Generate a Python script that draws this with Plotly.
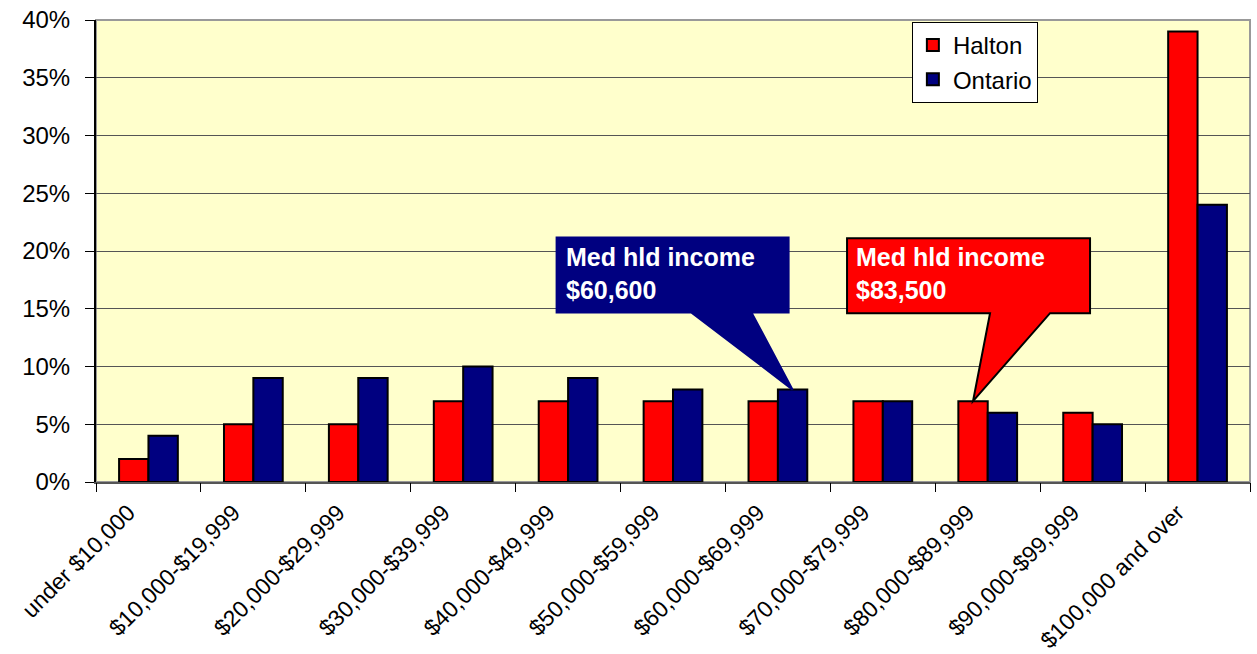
import plotly.graph_objects as go

categories = ["under $10,000", "$10,000-$19,999", "$20,000-$29,999", "$30,000-$39,999",
              "$40,000-$49,999", "$50,000-$59,999", "$60,000-$69,999", "$70,000-$79,999",
              "$80,000-$89,999", "$90,000-$99,999", "$100,000 and over"]
halton = [2, 5, 5, 7, 7, 7, 7, 7, 7, 6, 39]
ontario = [4, 9, 9, 10, 9, 8, 8, 7, 6, 5, 24]
y_ticks = [0, 5, 10, 15, 20, 25, 30, 35, 40]
y_labels = ["0%", "5%", "10%", "15%", "20%", "25%", "30%", "35%", "40%"]

RED = "#FF0000"
BLUE = "#000080"
FONT = "Liberation Sans, Arial, sans-serif"
BARGAP = 0.44

xs = list(range(len(categories)))
fig = go.Figure()
fig.add_trace(go.Bar(x=xs, y=halton, name="Halton", marker=dict(color=RED, line=dict(color="black", width=2))))
fig.add_trace(go.Bar(x=xs, y=ontario, name="Ontario", marker=dict(color=BLUE, line=dict(color="black", width=2))))
# invisible trace for boundary ticks axis
fig.add_trace(go.Scatter(x=[-0.5, 10.5], y=[0, 0], xaxis="x2", mode="markers",
                         marker=dict(opacity=0), showlegend=False, hoverinfo="skip"))

off = (1 - BARGAP) / 4

def callout(ci, val, side, box, base, fill, border, label, txt_dx, txt_dy):
    xa = ci + side * off
    x0, x1, ytop, ybot = box
    b0, b1 = base
    path = (f"M {x0} {ytop} L {x1} {ytop} L {x1} {ybot} L {b1} {ybot} L 0 0 "
            f"L {b0} {ybot} L {x0} {ybot} Z")
    fig.add_shape(type="path", xref="x", yref="y", xsizemode="pixel", ysizemode="pixel",
                  xanchor=xa, yanchor=val, path=path, fillcolor=fill,
                  line=dict(color=border, width=2), layer="above")
    fig.add_annotation(x=xa, y=val, xref="x", yref="y", text=label, showarrow=False,
                       xanchor="left", yanchor="top", align="left", xshift=txt_dx, yshift=txt_dy,
                       font=dict(family=FONT, size=25, color="white", weight="bold"))

callout(6, ontario[6], +1, (-236, -4, 152, 77), (-101, -41), BLUE, BLUE,
        "Med hld income<br>$60,600", -229, 149)
callout(8, halton[8], -1, (-126, 117, 163, 88), (17, 77), RED, "black",
        "Med hld income<br>$83,500", -119, 160)

fig.update_layout(
    width=1257, height=654,
    margin=dict(l=96, r=7, t=20, b=172, autoexpand=False),
    paper_bgcolor="white", plot_bgcolor="#FFFFCC",
    barmode="group", bargap=BARGAP, bargroupgap=0,
    font=dict(family=FONT, color="black"),
    legend=dict(x=0.707, y=0.996, xanchor="left", yanchor="top", bgcolor="white",
                bordercolor="black", borderwidth=1, font=dict(size=24, family=FONT),
                itemwidth=30, tracegroupgap=0),
    xaxis=dict(range=[-0.5, 10.5], tickvals=xs, ticktext=categories, tickangle=-45,
               ticks="", tickfont=dict(size=23, family=FONT), showgrid=False, zeroline=False,
               showline=True, linecolor="#555555", linewidth=2, automargin=False,
               ticklabelshift=-20, ticklabelstandoff=6),
    xaxis2=dict(range=[-0.5, 10.5], overlaying="x", side="bottom", anchor="y",
                tickvals=[i - 0.5 for i in range(12)], showticklabels=False, ticks="outside",
                ticklen=9, tickcolor="black", tickwidth=1, showgrid=False, zeroline=False,
                showline=False, automargin=False),
    yaxis=dict(range=[0, 40], tickvals=y_ticks, ticktext=y_labels, ticks="outside", ticklen=9,
               tickcolor="black", tickfont=dict(size=24, family=FONT), showgrid=True,
               gridcolor="#555555", gridwidth=1, zeroline=False, showline=True,
               linecolor="black", linewidth=2, mirror=False, automargin=False,
               ticklabelstandoff=10),
    showlegend=True,
)
# plot area border (gray, top & right)
fig.add_shape(type="rect", xref="paper", yref="paper", x0=0, x1=1, y0=0, y1=1,
              line=dict(color="#999999", width=2), layer="below")

fig.write_html("out.html", config={"displayModeBar": False},
               post_script="document.body.style.margin='0';")
